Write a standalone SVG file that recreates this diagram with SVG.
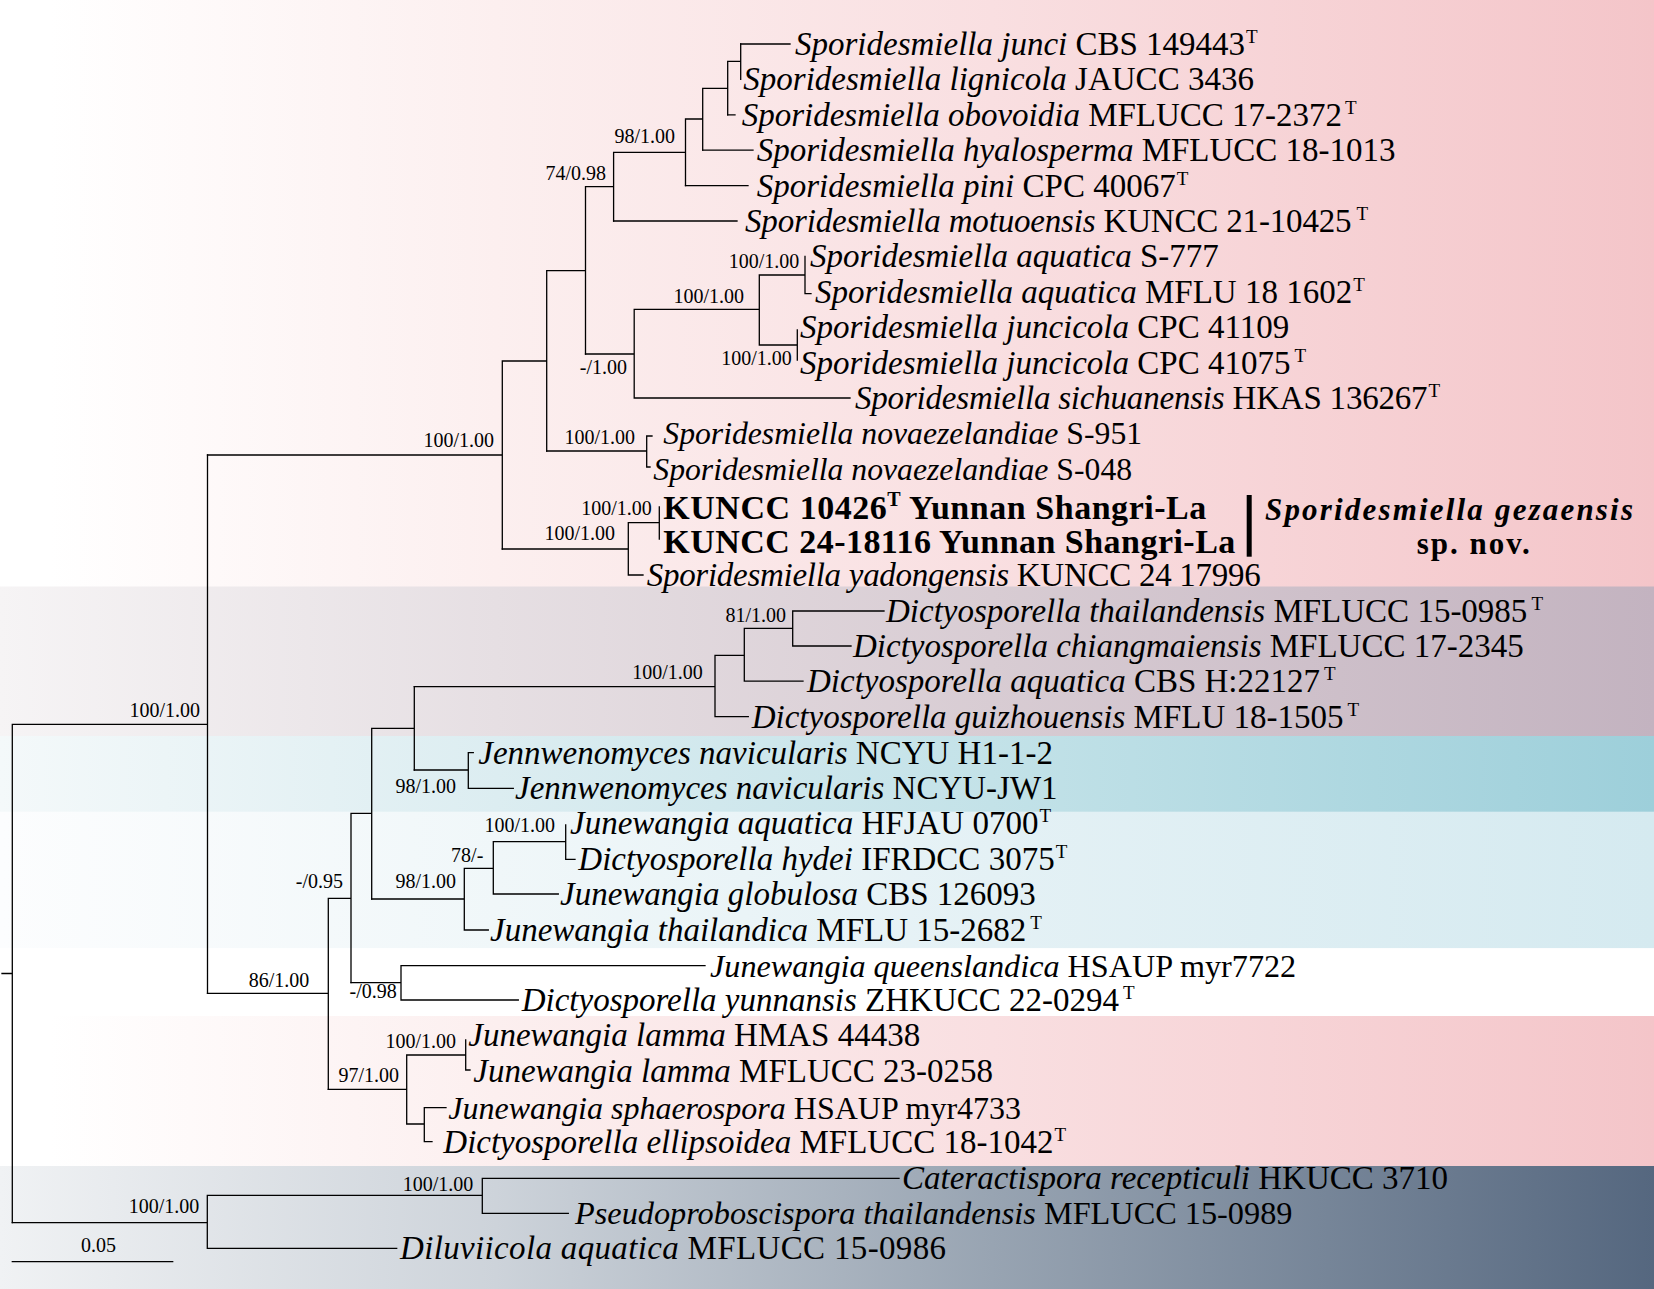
<svg xmlns="http://www.w3.org/2000/svg" width="1654" height="1289" viewBox="0 0 1654 1289">
<defs>
<linearGradient id="gPink" x1="0" y1="0" x2="1" y2="0">
<stop offset="0" stop-color="#ffffff"/><stop offset="0.03" stop-color="#ffffff"/><stop offset="0.3" stop-color="#fcefef"/><stop offset="0.6" stop-color="#f9dfe1"/><stop offset="1" stop-color="#f4c5c9"/>
</linearGradient>
<linearGradient id="gMauve" x1="0" y1="0" x2="1" y2="0">
<stop offset="0" stop-color="#f6f4f5"/><stop offset="0.3" stop-color="#e6dfe3"/><stop offset="0.6" stop-color="#d8ccd3"/><stop offset="1" stop-color="#c3b3c0"/>
</linearGradient>
<linearGradient id="gTeal" x1="0" y1="0" x2="1" y2="0">
<stop offset="0" stop-color="#f4f9fa"/><stop offset="0.3" stop-color="#dcedf1"/><stop offset="0.6" stop-color="#c3e2e8"/><stop offset="1" stop-color="#9dcfda"/>
</linearGradient>
<linearGradient id="gLight" x1="0" y1="0" x2="1" y2="0">
<stop offset="0" stop-color="#fcfdfe"/><stop offset="0.3" stop-color="#f0f7f9"/><stop offset="0.6" stop-color="#e4f1f5"/><stop offset="1" stop-color="#d5eaf0"/>
</linearGradient>
<linearGradient id="gSlate" x1="0" y1="0" x2="1" y2="0">
<stop offset="0" stop-color="#f0f2f4"/><stop offset="0.3" stop-color="#cdd3da"/><stop offset="0.6" stop-color="#98a4b2"/><stop offset="1" stop-color="#55677f"/>
</linearGradient>
<style>
.br{fill:none;stroke:#000;stroke-width:1.3;stroke-linecap:square}
.tip{font-family:"Liberation Serif","Times New Roman",serif;font-size:33px;fill:#000}
.i{font-style:italic}
.sup{font-size:19px}
.bs{font-family:"Liberation Serif","Times New Roman",serif;font-size:20px;fill:#000;text-anchor:end}
.bold{font-family:"Liberation Serif","Times New Roman",serif;font-size:34px;font-weight:bold;fill:#000}
.sp{font-family:"Liberation Serif","Times New Roman",serif;font-size:31px;font-weight:bold;fill:#000}
</style>
</defs>

<g id="background">
<rect x="0" y="0" width="1654" height="587" fill="url(#gPink)"/>
<rect x="0" y="586.5" width="1654" height="150" fill="url(#gMauve)"/>
<rect x="0" y="736" width="1654" height="76" fill="url(#gTeal)"/>
<rect x="0" y="811.7" width="1654" height="136.6" fill="url(#gLight)"/>
<rect x="0" y="948.3" width="1654" height="67.7" fill="#ffffff"/>
<rect x="0" y="1016" width="1654" height="150.5" fill="url(#gPink)"/>
<rect x="0" y="1166" width="1654" height="123" fill="url(#gSlate)"/>
</g>

<g id="connectors" class="br">
<path d="M2,973.5H12.3 M12.3,724.3V1222.7 M12.3,724.3H207.5 M207.5,455V993.3"/>
<path d="M207.5,455H502.3 M502.3,361V549 M502.3,361H546.7 M546.7,270.7V451 M546.7,270.7H585.5 M585.5,186.7V354 M585.5,186.7H613.6 M613.6,152.3V221 M613.6,152.3H685.5 M685.5,119V185.6 M685.5,119H702.7 M702.7,88.3V150.2 M702.7,88.3H727.7 M727.7,61.3V114.8 M727.7,61.3H740.7 M740.7,44V79.4"/>
<path d="M740.7,44H790 M727.7,114.8H735 M702.7,150.2H753 M685.5,185.6H748 M613.6,221H737"/>
<path d="M585.5,354H634.2 M634.2,309.3V398 M634.2,309.3H759.3 M759.3,275V345 M759.3,275H805 M805,256.4V293.6 M805,293.6H811 M759.3,345H797.3 M797.3,330V360 M634.2,398H850"/>
<path d="M546.7,451H646.7 M646.7,436V467 M646.7,436H652 M646.7,467H650"/>
<path d="M502.3,549H628.3 M628.3,522.7V575 M628.3,522.7H659.3 M659.3,507V539 M628.3,575H643"/>
<path d="M207.5,993.3H328.3 M328.3,898.3V1089.3 M328.3,898.3H351 M351,813.3V982.7 M351,813.3H371.7 M371.7,728.3V899 M371.7,728.3H414.3 M414.3,686.7V770"/>
<path d="M414.3,686.7H715 M715,655.3V716.6 M715,655.3H744.3 M744.3,628.3V681.2 M744.3,628.3H792.7 M792.7,611V646 M792.7,611H884 M792.7,646H851 M744.3,681.2H803 M715,716.6H748.3"/>
<path d="M414.3,770H468.3 M468.3,752.7V788.3 M468.3,752.7H473.3 M468.3,788.3H513.3"/>
<path d="M371.7,899H464.3 M464.3,868.3V930 M464.3,868.3H493.3 M493.3,841.7V894 M493.3,841.7H565.7 M565.7,825V859.3 M565.7,859.3H575 M493.3,894H558.3 M464.3,930H488.3"/>
<path d="M351,982.7H401 M401,965.7V1000 M401,965.7H705 M401,1000H518.3"/>
<path d="M328.3,1089.3H406.7 M406.7,1055V1124 M406.7,1055H465.7 M465.7,1040V1070 M465.7,1070H470 M406.7,1124H424.3 M424.3,1107.7V1141.7 M424.3,1107.7H446 M424.3,1141.7H432"/>
<path d="M12.3,1222.7H207.3 M207.3,1195.3V1248.3 M207.3,1195.3H482.3 M482.3,1178.3V1213.3 M482.3,1178.3H899 M482.3,1213.3H568.3 M207.3,1248.3H396.7"/>
</g>

<g id="supports">
<g id="n-sp-crown"><text class="bs" x="494" y="446.5">100/1.00</text></g>
<g id="n-ingroup"><text class="bs" x="200" y="717">100/1.00</text></g>
<g id="n-74"><text class="bs" x="606" y="180">74/0.98</text></g>
<g id="n-98a"><text class="bs" x="675" y="143">98/1.00</text></g>
<g id="n-aq"><text class="bs" x="799.3" y="268">100/1.00</text></g>
<g id="n-aqjun"><text class="bs" x="744" y="303">100/1.00</text></g>
<g id="n-jun"><text class="bs" x="791.7" y="365">100/1.00</text></g>
<g id="n-m1"><text class="bs" x="627" y="374">-/1.00</text></g>
<g id="n-nov"><text class="bs" x="635" y="444">100/1.00</text></g>
<g id="n-kun"><text class="bs" x="651.7" y="515">100/1.00</text></g>
<g id="n-gez"><text class="bs" x="615" y="540">100/1.00</text></g>
<g id="n-81"><text class="bs" x="786" y="621.7">81/1.00</text></g>
<g id="n-dic"><text class="bs" x="702.7" y="679.3">100/1.00</text></g>
<g id="n-jen"><text class="bs" x="456" y="793.3">98/1.00</text></g>
<g id="n-jaq"><text class="bs" x="555" y="831.7">100/1.00</text></g>
<g id="n-78"><text class="bs" x="483.3" y="861.7">78/-</text></g>
<g id="n-98c"><text class="bs" x="456" y="888.3">98/1.00</text></g>
<g id="n-095"><text class="bs" x="343" y="888.3">-/0.95</text></g>
<g id="n-86"><text class="bs" x="309.3" y="986.7">86/1.00</text></g>
<g id="n-098"><text class="bs" x="396.7" y="998.3">-/0.98</text></g>
<g id="n-lam"><text class="bs" x="456" y="1048.3">100/1.00</text></g>
<g id="n-97"><text class="bs" x="399" y="1081.7">97/1.00</text></g>
<g id="n-cat"><text class="bs" x="473.3" y="1191">100/1.00</text></g>
<g id="n-out"><text class="bs" x="199.3" y="1213.3">100/1.00</text></g>
</g>

<g id="scalebar">
<path class="br" d="M12.3,1261.7H172.7"/>
<text class="bs" x="116" y="1251.7">0.05</text>
</g>

<g id="tips">
<g id="t1"><text class="tip" x="795" y="55"><tspan class="i">Sporidesmiella junci</tspan> CBS 149443<tspan class="sup" dx="1" dy="-12">T</tspan></text></g>
<g id="t2"><text class="tip" x="743.3" y="90.4"><tspan class="i">Sporidesmiella lignicola</tspan> JAUCC 3436</text></g>
<g id="t3"><text class="tip" x="741.7" y="125.8"><tspan class="i">Sporidesmiella obovoidia</tspan> MFLUCC 17-2372<tspan class="sup" dx="3" dy="-12">T</tspan></text></g>
<g id="t4"><text class="tip" x="756.7" y="161.2"><tspan class="i">Sporidesmiella hyalosperma</tspan> MFLUCC 18-1013</text></g>
<g id="t5"><text class="tip" x="756.7" y="196.6"><tspan class="i">Sporidesmiella pini</tspan> CPC 40067<tspan class="sup" dx="1" dy="-12">T</tspan></text></g>
<g id="t6"><text class="tip" x="745" y="232" textLength="623" lengthAdjust="spacing"><tspan class="i">Sporidesmiella motuoensis</tspan> KUNCC 21-10425<tspan class="sup" dx="5" dy="-12">T</tspan></text></g>
<g id="t7"><text class="tip" x="810" y="267.4"><tspan class="i">Sporidesmiella aquatica</tspan> S-777</text></g>
<g id="t8"><text class="tip" x="815" y="302.8"><tspan class="i">Sporidesmiella aquatica</tspan> MFLU 18 1602<tspan class="sup" dx="1" dy="-12">T</tspan></text></g>
<g id="t9"><text class="tip" x="800" y="338.2"><tspan class="i">Sporidesmiella juncicola</tspan> CPC 41109</text></g>
<g id="t10"><text class="tip" x="800" y="373.6"><tspan class="i">Sporidesmiella juncicola</tspan> CPC 41075<tspan class="sup" dx="4" dy="-12">T</tspan></text></g>
<g id="t11"><text class="tip" x="855" y="409" textLength="585" lengthAdjust="spacing"><tspan class="i">Sporidesmiella sichuanensis</tspan> HKAS 136267<tspan class="sup" dx="1" dy="-12">T</tspan></text></g>
<g id="t12"><text class="tip" x="663.3" y="444.4" style="font-size:31.7px"><tspan class="i">Sporidesmiella novaezelandiae</tspan> S-951</text></g>
<g id="t13"><text class="tip" x="653.3" y="479.8" style="font-size:31.7px"><tspan class="i">Sporidesmiella novaezelandiae</tspan> S-048</text></g>
<g id="t14"><text class="bold" x="663.3" y="519" textLength="543" lengthAdjust="spacing">KUNCC 10426<tspan font-size="20" dy="-13">T</tspan><tspan dy="13"> Yunnan Shangri-La</tspan></text></g>
<g id="t15"><text class="bold" x="663.3" y="553" textLength="572" lengthAdjust="spacing">KUNCC 24-18116 Yunnan Shangri-La</text></g>
<g id="t16"><text class="tip" x="646.7" y="586" textLength="614" lengthAdjust="spacing"><tspan class="i">Sporidesmiella yadongensis</tspan> KUNCC 24 17996</text></g>
<g id="t17"><text class="tip" x="886" y="622"><tspan class="i">Dictyosporella thailandensis</tspan> MFLUCC 15-0985<tspan class="sup" dx="4" dy="-12">T</tspan></text></g>
<g id="t18"><text class="tip" x="853" y="657"><tspan class="i">Dictyosporella chiangmaiensis</tspan> MFLUCC 17-2345</text></g>
<g id="t19"><text class="tip" x="807" y="692.2"><tspan class="i">Dictyosporella aquatica</tspan> CBS H:22127<tspan class="sup" dx="4" dy="-12">T</tspan></text></g>
<g id="t20"><text class="tip" x="751.7" y="727.6"><tspan class="i">Dictyosporella guizhouensis</tspan> MFLU 18-1505<tspan class="sup" dx="4" dy="-12">T</tspan></text></g>
<g id="t21"><text class="tip" x="478.3" y="763.5"><tspan class="i">Jennwenomyces navicularis</tspan> NCYU H1-1-2</text></g>
<g id="t22"><text class="tip" x="515" y="799"><tspan class="i">Jennwenomyces navicularis</tspan> NCYU-JW1</text></g>
<g id="t23"><text class="tip" x="570" y="834"><tspan class="i">Junewangia aquatica</tspan> HFJAU 0700<tspan class="sup" dx="1" dy="-12">T</tspan></text></g>
<g id="t24"><text class="tip" x="578.3" y="869.5"><tspan class="i">Dictyosporella hydei</tspan> IFRDCC 3075<tspan class="sup" dx="1" dy="-12">T</tspan></text></g>
<g id="t25"><text class="tip" x="560" y="905"><tspan class="i">Junewangia globulosa</tspan> CBS 126093</text></g>
<g id="t26"><text class="tip" x="490" y="940.5"><tspan class="i">Junewangia thailandica</tspan> MFLU 15-2682<tspan class="sup" dx="4" dy="-12">T</tspan></text></g>
<g id="t27"><text class="tip" x="710" y="976.5" style="font-size:32.2px"><tspan class="i">Junewangia queenslandica</tspan> HSAUP myr7722</text></g>
<g id="t28"><text class="tip" x="521.7" y="1011"><tspan class="i">Dictyosporella yunnansis</tspan> ZHKUCC 22-0294<tspan class="sup" dx="4" dy="-12">T</tspan></text></g>
<g id="t29"><text class="tip" x="468.3" y="1046.2"><tspan class="i">Junewangia lamma</tspan> HMAS 44438</text></g>
<g id="t30"><text class="tip" x="473.3" y="1081.6"><tspan class="i">Junewangia lamma</tspan> MFLUCC 23-0258</text></g>
<g id="t31"><text class="tip" x="448.3" y="1118.5" style="font-size:32px"><tspan class="i">Junewangia sphaerospora</tspan> HSAUP myr4733</text></g>
<g id="t32"><text class="tip" x="443.3" y="1152.5"><tspan class="i">Dictyosporella ellipsoidea</tspan> MFLUCC 18-1042<tspan class="sup" dx="1" dy="-12">T</tspan></text></g>
<g id="t33"><text class="tip" x="902" y="1189"><tspan class="i">Cateractispora recepticuli</tspan> HKUCC 3710</text></g>
<g id="t34"><text class="tip" x="575" y="1224" style="font-size:32.3px"><tspan class="i">Pseudoproboscispora thailandensis</tspan> MFLUCC 15-0989</text></g>
<g id="t35"><text class="tip" x="400" y="1259" textLength="546" lengthAdjust="spacing"><tspan class="i">Diluviicola aquatica</tspan> MFLUCC 15-0986</text></g>
</g>

<g id="species-label">
<rect x="1246.7" y="495" width="5" height="61.7" fill="#000"/>
<text class="sp" x="1265" y="519.5" font-style="italic" textLength="368" lengthAdjust="spacing">Sporidesmiella gezaensis</text>
<text class="sp" x="1416.7" y="554" textLength="113" lengthAdjust="spacing">sp. nov.</text>
</g>
</svg>
